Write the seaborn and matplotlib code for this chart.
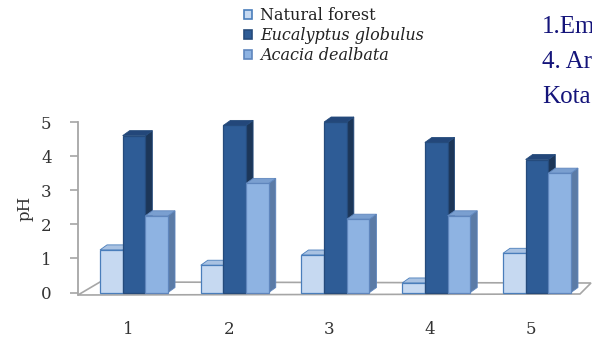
import matplotlib
matplotlib.use("Agg")
import matplotlib.pyplot as plt
import seaborn as sns
import pandas as pd
from matplotlib.patches import Polygon, Patch
from matplotlib.transforms import ScaledTranslation

# ---- data ----
sites = ["1", "2", "3", "4", "5"]
series = ["Natural forest", "Eucalyptus globulus", "Acacia dealbata"]
natural_forest = [1.25, 0.8, 1.1, 0.28, 1.15]
eucalyptus_globulus = [4.6, 4.9, 5.0, 4.4, 3.9]
acacia_dealbata = [2.25, 3.2, 2.15, 2.25, 3.5]
yticks = [0, 1, 2, 3, 4, 5]
side_notes = ["1.Em", "4. Ar", "Kota"]

df = pd.DataFrame({
    "site": sites * 3,
    "series": [series[0]] * 5 + [series[1]] * 5 + [series[2]] * 5,
    "pH": natural_forest + eucalyptus_globulus + acacia_dealbata,
})

front = {series[0]: "#c6d9f1", series[1]: "#2e5c96", series[2]: "#8eb3e2"}
top_c = {series[0]: "#a9c2e2", series[1]: "#23477a", series[2]: "#7a9fd0"}
side_c = {series[0]: "#8ea9cf", series[1]: "#1c3658", series[2]: "#5b7ba6"}
edge = {series[0]: "#4a7ebb", series[1]: "#254b7c", series[2]: "#5f86bd"}

sns.set_theme(style="white")
plt.rcParams["font.family"] = ["DejaVu Serif"]

W, H = 592, 343
fig = plt.figure(figsize=(W / 100, H / 100), dpi=100)
ax = fig.add_axes([78 / W, (H - 295) / H, 502 / W, 173 / H])

sns.barplot(data=df, x="site", y="pH", hue="series", hue_order=series,
            palette=front, width=0.675, ax=ax, legend=False,
            linewidth=0.9, edgecolor="#4a7ebb", saturation=1)

ax.set_xlim(-0.556, 4.427)
ax.set_ylim(-0.073, 5.0)
ax.set_yticks(yticks)
ax.set_yticklabels([str(t) for t in yticks])
ax.set_xlabel("")
ax.set_ylabel("pH", fontsize=12, labelpad=5, color="#333333")

for s in ["top", "right", "bottom"]:
    ax.spines[s].set_visible(False)
ax.spines["left"].set_color("#a6a6a6")
ax.spines["left"].set_linewidth(1.3)
ax.spines["left"].set_zorder(1)

ax.tick_params(axis="y", length=6, width=1.2, color="#a6a6a6", direction="out",
               pad=13, labelsize=12, labelcolor="#333333", left=True)
ax.tick_params(axis="x", length=0, pad=19, labelsize=12, labelcolor="#333333")
for lab in ax.get_xticklabels():
    lab.set_transform(lab.get_transform() + ScaledTranslation(-6 / 100, 0, fig.dpi_scale_trans))

fig.canvas.draw()
inv = ax.transData.inverted()

# floor (3D base)
fl = ax.transAxes.transform([(0, 0), (1, 0)])
floor_px = [(fl[0][0], fl[0][1]), (fl[1][0], fl[1][1] + 1),
            (fl[1][0] + 11, fl[1][1] + 12), (fl[0][0] + 22, fl[0][1] + 13)]
floor = Polygon(inv.transform(floor_px), closed=True, facecolor="white",
                edgecolor="#a6a6a6", linewidth=1.2, zorder=1.5, clip_on=False)
ax.add_patch(floor)

# 3D faces derived from each seaborn bar
dx, dy = 7, 5
bars = [p for p in ax.patches if p is not floor]
n = len(sites)
for i, p in enumerate(bars):
    sname = series[i // n]
    p.set_facecolor(front[sname])
    p.set_edgecolor(edge[sname])
    (x0, y0), (x1, y1) = ax.transData.transform(
        [(p.get_x(), p.get_y()), (p.get_x() + p.get_width(), p.get_y() + p.get_height())])
    z = 3 + p.get_x()
    p.set_zorder(z + 0.01)
    p.set_clip_on(False)
    top = [(x0, y1), (x1, y1), (x1 + dx, y1 + dy), (x0 + dx, y1 + dy)]
    side = [(x1, y0), (x1 + dx, y0 + dy), (x1 + dx, y1 + dy), (x1, y1)]
    ax.add_patch(Polygon(inv.transform(side), closed=True, facecolor=side_c[sname],
                         edgecolor=edge[sname], linewidth=0.6, zorder=z, clip_on=False))
    ax.add_patch(Polygon(inv.transform(top), closed=True, facecolor=top_c[sname],
                         edgecolor=edge[sname], linewidth=0.6, zorder=z, clip_on=False))

# legend
handles = [Patch(facecolor=front[s], edgecolor=edge[s], linewidth=1.2) for s in series]
leg = fig.legend(handles, series, loc="upper left",
                 bbox_to_anchor=(244 / W, 1 - 7 / H), frameon=False,
                 fontsize=11.5, handlelength=0.5, handleheight=0.5,
                 handletextpad=0.5, labelspacing=0.2, borderpad=0, borderaxespad=0)
for t in leg.get_texts()[1:]:
    t.set_style("italic")
for t in leg.get_texts():
    t.set_color("#222222")

# clipped side text from adjacent page content
for k, note in enumerate(side_notes):
    fig.text(542 / W, 1 - (33 + 35 * k) / H, note, fontsize=18, color="#14147a",
             family=["Liberation Serif"], ha="left", va="baseline")

fig.savefig("out.png", dpi=100)
